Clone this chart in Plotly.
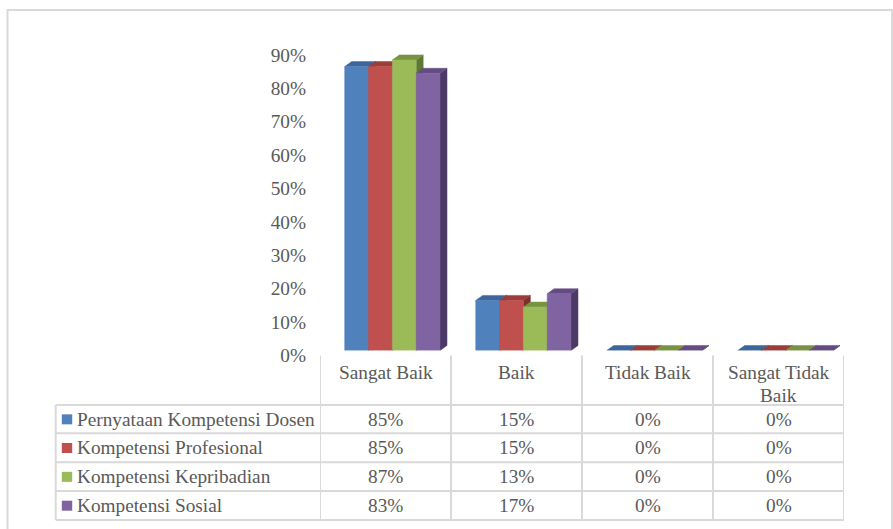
import plotly.graph_objects as go

# ---------------- data ----------------
categories = ["Sangat Baik", "Baik", "Tidak Baik", "Sangat Tidak<br>Baik"]
series_names = ["Pernyataan Kompetensi Dosen", "Kompetensi Profesional",
                "Kompetensi Kepribadian", "Kompetensi Sosial"]
pernyataan = [0.85, 0.15, 0.00, 0.00]
profesional = [0.85, 0.15, 0.00, 0.00]
kepribadian = [0.87, 0.13, 0.00, 0.00]
sosial = [0.83, 0.17, 0.00, 0.00]
series_values = [pernyataan, profesional, kepribadian, sosial]
y_ticks = [0.0, 0.1, 0.2, 0.3, 0.4, 0.5, 0.6, 0.7, 0.8, 0.9]
y_tick_labels = ["0%", "10%", "20%", "30%", "40%", "50%", "60%", "70%", "80%", "90%"]

# ---------------- styles ----------------
front_colors = ["#4F81BD", "#C0504D", "#9BBB59", "#8064A2"]
top_colors = ["#3D679A", "#9A3D3B", "#789443", "#644C82"]
side_colors = ["#2F5180", "#7E302E", "#5F7834", "#4C3A66"]
TXT = "#595959"
FONT = "Liberation Serif"
FS = 19.3
GRID = "#D9D9D9"

W, H = 893, 529
def px(x):
    return x / W
def py(y):
    return 1 - y / H

X_LEFT, X_RIGHT = 320, 844
Y_ZERO = 350.5
PX_PER_UNIT = 334.0
Y_MAX = 0.95
Y_TOP = Y_ZERO - Y_MAX * PX_PER_UNIT
cat_px = (X_RIGHT - X_LEFT) / len(categories)

group_start = 24.7 / cat_px
bar_w = 0.7275 / 4
dx = 7.0 / cat_px
dy = 5.0 / PX_PER_UNIT

fig = go.Figure()

def add_poly(xs, ys, color):
    fig.add_trace(go.Scatter(x=xs, y=ys, mode="lines", fill="toself",
                             fillcolor=color, line=dict(color=color, width=0.5),
                             hoverinfo="skip", showlegend=False))

for i, vals in enumerate(series_values):
    sx, sy, tx, ty, fx, fy = [], [], [], [], [], []
    for c, v in enumerate(vals):
        x0 = c - 0.5 + group_start + i * bar_w
        x1 = x0 + bar_w
        sx += [x1, x1 + dx, x1 + dx, x1, x1, None]
        sy += [0, dy, v + dy, v, 0, None]
        tx += [x0, x0 + dx, x1 + dx, x1, x0, None]
        ty += [v, v + dy, v + dy, v, v, None]
        if v > 0:
            fx += [x0, x1, x1, x0, x0, None]
            fy += [0, 0, v, v, 0, None]
    add_poly(sx, sy, side_colors[i])
    add_poly(tx, ty, top_colors[i])
    if fx:
        add_poly(fx, fy, front_colors[i])

shapes = []
annotations = []

# outer frame
shapes.append(dict(type="rect", xref="paper", yref="paper",
                   x0=px(7.5), x1=px(892), y0=py(10), y1=py(545),
                   line=dict(color=GRID, width=2), fillcolor="rgba(0,0,0,0)"))

# data table grid
row_lines = [405, 433.3, 462.3, 491, 520]
TABLE_LEFT = 55.7
HEADER_TOP = 355.5

for k in range(len(categories) + 1):
    shapes.append(dict(type="line", xref="x", yref="paper",
                       x0=k - 0.5, x1=k - 0.5, y0=py(HEADER_TOP), y1=py(row_lines[-1]),
                       line=dict(color=GRID, width=2)))
shapes.append(dict(type="line", xref="paper", yref="paper",
                   x0=px(TABLE_LEFT), x1=px(TABLE_LEFT), y0=py(row_lines[0]), y1=py(row_lines[-1]),
                   line=dict(color=GRID, width=2)))
for yl in row_lines:
    shapes.append(dict(type="line", xref="paper", yref="paper",
                       x0=px(TABLE_LEFT), x1=px(X_RIGHT), y0=py(yl), y1=py(yl),
                       line=dict(color=GRID, width=2)))

# header (category) labels, one annotation per text line
HEADER_LINE1 = 372.5
HEADER_LINE_GAP = 23
for c, cat in enumerate(categories):
    for j, part in enumerate(cat.split("<br>")):
        annotations.append(dict(xref="x", yref="paper", x=c,
                                y=py(HEADER_LINE1 + j * HEADER_LINE_GAP),
                                text=part, showarrow=False, xanchor="center", yanchor="middle",
                                font=dict(family=FONT, size=FS, color=TXT)))

# table rows: legend key + series name + values
for i, (name, vals) in enumerate(zip(series_names, series_values)):
    yc = (row_lines[i] + row_lines[i + 1]) / 2
    shapes.append(dict(type="rect", xref="paper", yref="paper",
                       x0=px(61.8), x1=px(72.2), y0=py(yc - 4.8), y1=py(yc + 5.2),
                       line=dict(width=0), fillcolor=front_colors[i]))
    annotations.append(dict(xref="paper", yref="paper", x=px(75), y=py(yc),
                            text=name, showarrow=False, xanchor="left", yanchor="middle",
                            font=dict(family=FONT, size=FS, color=TXT)))
    for c, v in enumerate(vals):
        annotations.append(dict(xref="x", yref="paper", x=c, y=py(yc),
                                text=f"{round(v * 100)}%", showarrow=False,
                                xanchor="center", yanchor="middle",
                                font=dict(family=FONT, size=FS, color=TXT)))

fig.update_layout(
    width=W, height=H, autosize=False,
    margin=dict(l=0, r=0, t=0, b=0),
    paper_bgcolor="white", plot_bgcolor="rgba(0,0,0,0)",
    showlegend=False,
    shapes=shapes, annotations=annotations,
    xaxis=dict(domain=[px(X_LEFT), px(X_RIGHT)], range=[-0.5, len(categories) - 0.5],
               showticklabels=False, showgrid=False, zeroline=False, showline=False,
               fixedrange=True, automargin=False),
    yaxis=dict(domain=[py(Y_ZERO), py(Y_TOP)], range=[0, Y_MAX],
               tickvals=y_ticks, ticktext=y_tick_labels,
               showgrid=False, zeroline=False, showline=False, ticks="",
               ticklabelstandoff=13, ticklabelshift=5, automargin=False,
               tickfont=dict(family=FONT, size=FS, color=TXT), fixedrange=True),
)

fig.write_html("out.html", config={"staticPlot": True},
               post_script="document.body.style.margin='0';document.body.style.overflow='hidden';")
